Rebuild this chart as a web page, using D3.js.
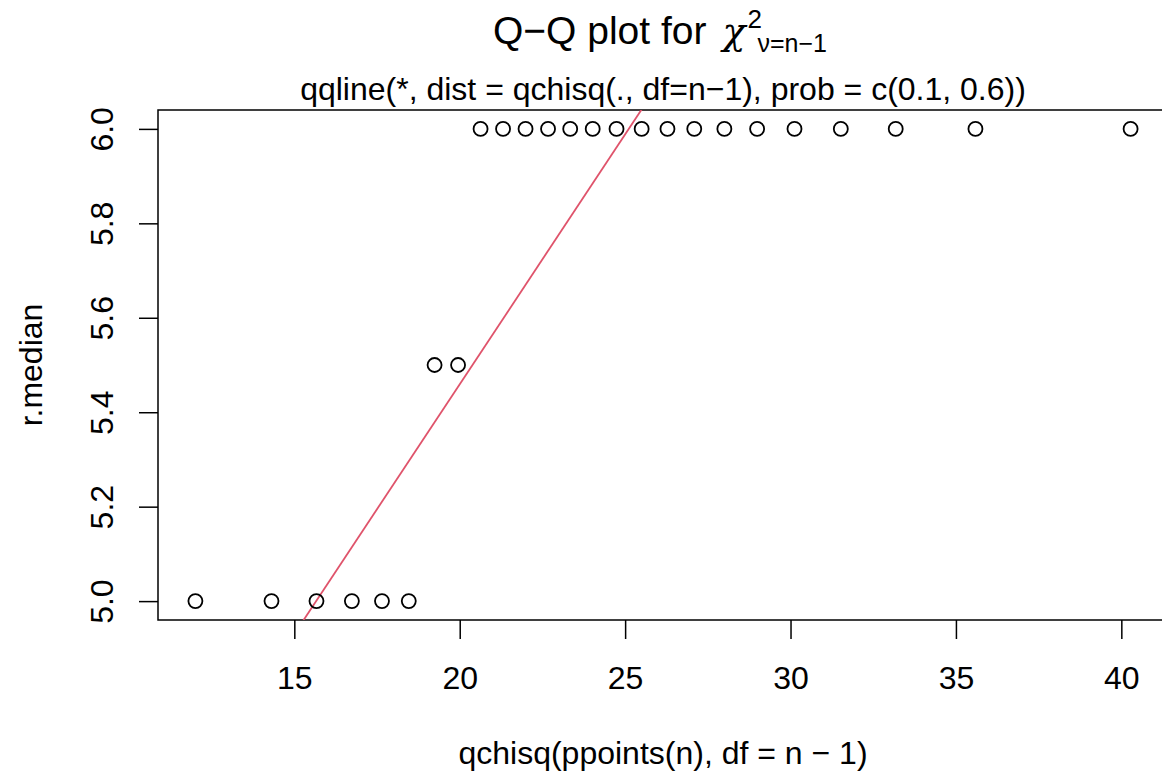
<!DOCTYPE html>
<html>
<head>
<meta charset="utf-8">
<script src="https://cdn.jsdelivr.net/npm/d3@7"></script>
<style>
  body { margin: 0; background: #fff; }
  text { font-family: "Liberation Sans", Arial, Helvetica, sans-serif; fill: #000; }
</style>
</head>
<body>
<svg id="chart" width="1162" height="774"></svg>
<script>
// theoretical chi-square quantiles (x) and observed r.median (y)
const theoQ = [12.01, 14.31, 15.67, 16.74, 17.65, 18.46, 19.24, 19.95, 20.63, 21.31,
  21.99, 22.67, 23.34, 24.02, 24.74, 25.50, 26.28, 27.09, 28.00, 28.99,
  30.12, 31.52, 33.18, 35.59, 40.28];
const rMedian = [5, 5, 5, 5, 5, 5, 5.5, 5.5, 6, 6,
  6, 6, 6, 6, 6, 6, 6, 6, 6, 6,
  6, 6, 6, 6, 6];
const xTicks = [15, 20, 25, 30, 35, 40];
const yTicks = [5.0, 5.2, 5.4, 5.6, 5.8, 6.0];
// qqline anchors at prob = c(0.1, 0.6)
const lineX = [15.66, 25.11];
const lineY = [5, 6];

const margin = { left: 158, top: 110, bottom: 620 };
const plotRight = 1168;
const fontSize = 32;

const svg = d3.select("#chart");

// R style: extend data range by 4% on each side
const pad = (ext) => {
  const r = ext[1] - ext[0];
  return [ext[0] - 0.04 * r, ext[1] + 0.04 * r];
};

const xScale = d3.scaleLinear().domain(pad(d3.extent(theoQ))).range([margin.left, plotRight]);
const yScale = d3.scaleLinear().domain(pad(d3.extent(rMedian))).range([margin.bottom, margin.top]);

svg.append("clipPath")
  .attr("id", "plot-clip")
  .append("rect")
  .attr("x", margin.left)
  .attr("y", margin.top)
  .attr("width", plotRight - margin.left)
  .attr("height", margin.bottom - margin.top);

// x axis
const xAxis = d3.axisBottom(xScale).tickValues(xTicks).tickSize(19).tickPadding(27).tickFormat(d3.format("d"));
const xAxisG = svg.append("g")
  .attr("transform", `translate(0,${margin.bottom})`)
  .call(xAxis);
xAxisG.select(".domain").remove();
xAxisG.selectAll("line").attr("stroke", "#000").attr("stroke-width", 1.5);
xAxisG.selectAll("text").attr("font-size", fontSize).attr("font-family", null);

// y axis, labels parallel to the axis
const yAxis = d3.axisLeft(yScale).tickValues(yTicks).tickSize(19).tickFormat(d3.format(".1f"));
const yAxisG = svg.append("g")
  .attr("transform", `translate(${margin.left},0)`)
  .call(yAxis);
yAxisG.select(".domain").remove();
yAxisG.selectAll("line").attr("stroke", "#000").attr("stroke-width", 1.5);
yAxisG.selectAll("text")
  .attr("font-size", fontSize)
  .attr("font-family", null)
  .attr("x", null)
  .attr("dy", null)
  .attr("text-anchor", "middle")
  .attr("transform", "translate(-45,0) rotate(-90)");

// box
svg.append("rect")
  .attr("x", margin.left)
  .attr("y", margin.top)
  .attr("width", plotRight - margin.left)
  .attr("height", margin.bottom - margin.top)
  .attr("fill", "none")
  .attr("stroke", "#000")
  .attr("stroke-width", 1.5);

// qqline
const slope = (lineY[1] - lineY[0]) / (lineX[1] - lineX[0]);
const lineAt = (x) => lineY[0] + slope * (x - lineX[0]);
const [x0, x1] = xScale.domain();
svg.append("line")
  .attr("clip-path", "url(#plot-clip)")
  .attr("x1", xScale(x0))
  .attr("y1", yScale(lineAt(x0)))
  .attr("x2", xScale(x1))
  .attr("y2", yScale(lineAt(x1)))
  .attr("stroke", "#DF536B")
  .attr("stroke-width", 1.8);

// points
svg.append("g")
  .selectAll("circle")
  .data(theoQ.map((x, i) => ({ x, y: rMedian[i] })))
  .join("circle")
  .attr("cx", (d) => xScale(d.x))
  .attr("cy", (d) => yScale(d.y))
  .attr("r", 7)
  .attr("fill", "none")
  .attr("stroke", "#000")
  .attr("stroke-width", 1.8);

// axis titles
const midX = (margin.left + plotRight) / 2;
svg.append("text")
  .attr("x", midX)
  .attr("y", 764)
  .attr("text-anchor", "middle")
  .attr("font-size", fontSize)
  .text("qchisq(ppoints(n), df = n \u2212 1)");

svg.append("text")
  .attr("transform", `translate(42,${(margin.top + margin.bottom) / 2}) rotate(-90)`)
  .attr("text-anchor", "middle")
  .attr("font-size", fontSize)
  .text("r.median");

// subtitle (mtext)
svg.append("text")
  .attr("x", midX)
  .attr("y", 100)
  .attr("text-anchor", "middle")
  .attr("font-size", fontSize)
  .text("qqline(*, dist = qchisq(., df=n\u22121), prob = c(0.1, 0.6))");

// main title with chi^2 sub nu
const title = svg.append("text").attr("y", 44).attr("font-size", 39);
title.append("tspan").text("Q\u2212Q plot for");
title.append("tspan")
  .attr("dx", 16)
  .attr("font-family", "'DejaVu Serif', 'Liberation Serif', serif")
  .attr("font-style", "italic")
  .attr("font-size", 38)
  .text("\u03c7");
const sup = title.append("tspan").attr("font-size", 26).attr("dy", -16).attr("dx", 2).text("2");
const supW = sup.node().getComputedTextLength();
title.append("tspan")
  .attr("font-size", 25)
  .attr("dx", -supW + 10)
  .attr("dy", 24)
  .text("\u03bd=n\u22121");
const tw = title.node().getBBox().width;
title.attr("x", midX - 3 - tw / 2);
</script>
</body>
</html>
